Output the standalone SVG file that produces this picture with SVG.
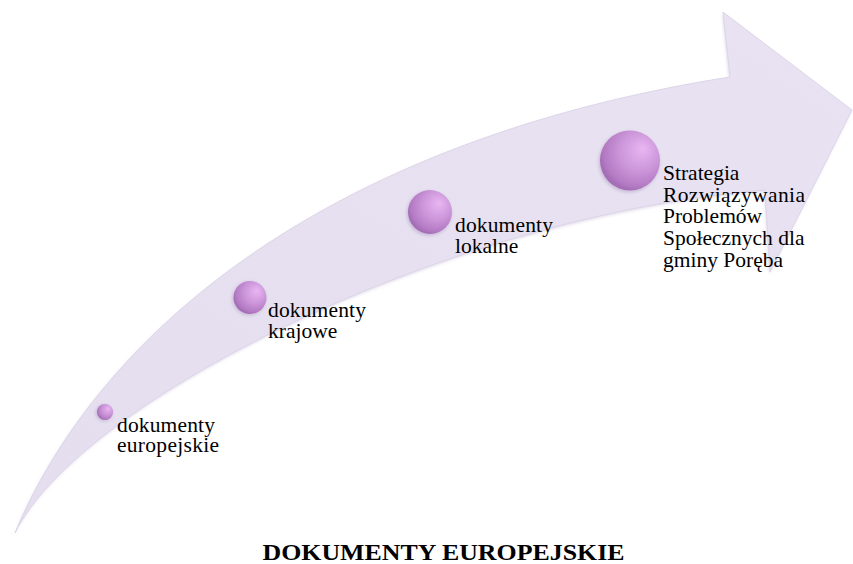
<svg xmlns="http://www.w3.org/2000/svg" width="853" height="564" viewBox="0 0 853 564">
<defs>
<radialGradient id="ball" cx="0.62" cy="0.38" r="0.62" fx="0.72" fy="0.3">
<stop offset="0" stop-color="#E9B6F2"/>
<stop offset="0.55" stop-color="#CB95D9"/>
<stop offset="0.9" stop-color="#B47BC4"/>
<stop offset="1" stop-color="#A46FB6"/>
</radialGradient>
<linearGradient id="arrowFill" x1="0" y1="1" x2="1" y2="0">
<stop offset="0" stop-color="#E4DEEE"/>
<stop offset="1" stop-color="#E8E2F2"/>
</linearGradient>
<filter id="soft" x="-10%" y="-10%" width="120%" height="120%">
<feGaussianBlur stdDeviation="1.5"/>
</filter>
</defs>
<style>
.lbl{font-family:"Liberation Serif","Times New Roman",serif;font-size:21.5px;fill:#000}
.title{font-family:"Liberation Serif","Times New Roman",serif;font-size:24px;font-weight:bold;fill:#000}
.ball{fill:url(#ball)}
.ballshadow{fill:#9E7FB0;opacity:0.35;filter:url(#soft)}
</style>
<rect width="853" height="564" fill="#fff"/>
<g id="arrow">
<path d="M15,533 C100,330 330,140 730,77 L723,12 L852,110 L770,272 L765,190 C450,215 80,400 15,533 Z" fill="#CFC6DD" opacity="0.6" filter="url(#soft)" transform="translate(-1,2)"/>
<path d="M15,533 C100,330 330,140 730,77 L723,12 L852,110 L770,272 L765,190 C450,215 80,400 15,533 Z" fill="url(#arrowFill)" stroke="#DDD5E8" stroke-width="1"/>
</g>
<g id="connectors"></g>
<g id="node-europejskie">
<circle class="ballshadow" cx="104" cy="413" r="8.5"/>
<circle class="ball" cx="105" cy="412" r="8"/>
<text class="lbl" x="117" y="432" textLength="98">dokumenty</text>
<text class="lbl" x="117" y="452" textLength="102">europejskie</text>
</g>
<g id="node-krajowe">
<circle class="ballshadow" cx="249" cy="298.5" r="17"/>
<circle class="ball" cx="250" cy="297.5" r="16.5"/>
<text class="lbl" x="268" y="317" textLength="98">dokumenty</text>
<text class="lbl" x="268" y="338">krajowe</text>
</g>
<g id="node-lokalne">
<circle class="ballshadow" cx="429" cy="213.5" r="22.5"/>
<circle class="ball" cx="430" cy="212" r="22"/>
<text class="lbl" x="455" y="232" textLength="98">dokumenty</text>
<text class="lbl" x="455" y="253">lokalne</text>
</g>
<g id="node-strategia">
<circle class="ballshadow" cx="629" cy="162" r="30.5"/>
<circle class="ball" cx="630" cy="160.5" r="30"/>
<text class="lbl" x="663" y="180">Strategia</text>
<text class="lbl" x="663" y="202" textLength="142">Rozwiązywania</text>
<text class="lbl" x="663" y="223">Problemów</text>
<text class="lbl" x="663" y="245">Społecznych dla</text>
<text class="lbl" x="663" y="267">gminy Poręba</text>
</g>
<text class="title" x="443.5" y="560" text-anchor="middle" textLength="362" lengthAdjust="spacingAndGlyphs">DOKUMENTY EUROPEJSKIE</text>
</svg>
